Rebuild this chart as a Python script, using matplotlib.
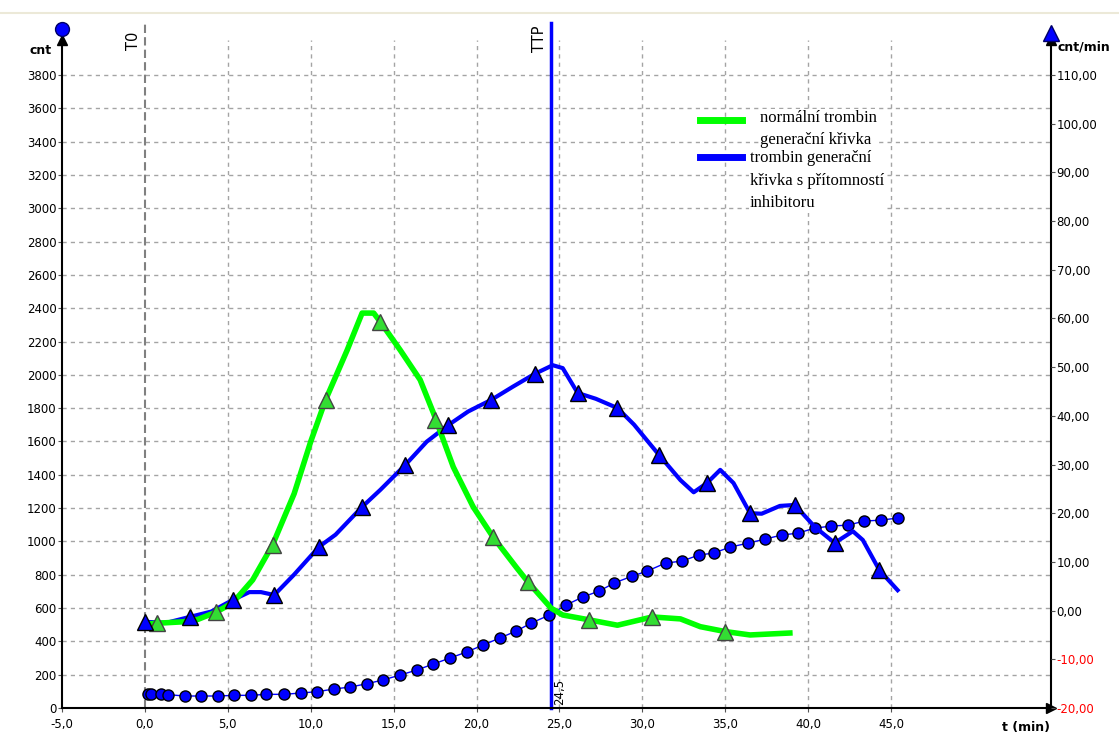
import numpy as np
import matplotlib
matplotlib.use('Agg')
import matplotlib.pyplot as plt
from matplotlib.lines import Line2D
from matplotlib.ticker import FuncFormatter

# cumulative signal (cnt), left axis
dot_t = [0.2, 0.35, 1.0, 1.4, 2.4, 3.4, 4.4, 5.4, 6.4, 7.3, 8.4, 9.4, 10.4,
         11.4, 12.4, 13.4, 14.35, 15.4, 16.4, 17.4, 18.4, 19.4, 20.4, 21.4,
         22.4, 23.3, 24.4, 25.4, 26.4, 27.4, 28.3, 29.4, 30.3, 31.4, 32.4,
         33.4, 34.3, 35.3, 36.4, 37.4, 38.4, 39.4, 40.4, 41.4, 42.4, 43.4,
         44.4, 45.4]
dot_cnt = [83, 83, 82, 80, 72, 72, 72, 76, 76, 82, 82, 90, 98, 114, 126, 146,
           168, 198, 228, 264, 300, 336, 378, 420, 462, 510, 558, 618, 666,
           702, 750, 792, 822, 870, 882, 918, 930, 966, 990, 1014, 1038, 1050,
           1080, 1092, 1098, 1122, 1128, 1140]

# normal thrombin generation curve (cnt/min), right axis
green_t = [0.3, 0.7, 2.3, 3.2, 4.3, 5.3, 6.5, 7.7, 9.0, 10.0, 10.9, 12.2,
           13.1, 13.8, 14.2, 15.4, 16.6, 17.4, 18.6, 19.8, 21.0, 22.4, 23.1,
           24.5, 25.2, 26.8, 28.5, 30.6, 32.3, 33.5, 35.0, 36.5, 38.9]
green_r = [-2.7, -2.6, -2.3, -1.8, -0.3, 1.6, 6.3, 13.5, 24.0, 34.7, 43.3,
           53.5, 61.1, 61.1, 59.3, 53.5, 47.4, 40.6, 29.5, 21.3, 15.1, 8.9,
           5.9, 0.5, -0.9, -1.9, -3.0, -1.3, -1.7, -3.3, -4.3, -5.0, -4.6]
green_tri_t = [0.7, 4.3, 7.7, 10.9, 14.2, 17.5, 21.0, 23.1, 26.8, 30.6, 35.0]
green_tri_r = [-2.6, -0.3, 13.5, 43.3, 59.3, 39.2, 15.1, 5.9, -1.9, -1.3, -4.3]

# thrombin generation with inhibitor (cnt/min), right axis
blue_t = [0.0, 1.3, 2.7, 4.0, 5.3, 6.3, 7.0, 7.8, 9.0, 10.5, 11.5, 13.1, 14.2,
          15.7, 17.0, 18.3, 19.5, 20.9, 22.2, 23.5, 24.6, 25.2, 26.1, 27.2,
          28.5, 29.5, 31.0, 32.3, 33.1, 33.9, 34.7, 35.5, 36.5, 37.2, 38.3,
          39.2, 40.4, 41.6, 42.7, 43.3, 44.3, 45.4]
blue_r = [-2.3, -2.5, -1.3, -0.2, 2.2, 3.8, 3.8, 3.2, 7.4, 13.1, 15.6, 21.3,
          24.8, 29.9, 34.7, 38.1, 40.9, 43.3, 46.0, 48.6, 50.4, 49.8, 44.7,
          43.5, 41.6, 38.2, 32.0, 26.8, 24.3, 26.2, 28.9, 26.2, 20.0, 19.9,
          21.5, 21.7, 17.2, 13.9, 16.3, 14.5, 8.3, 4.2]
blue_tri_t = [0.0, 2.7, 5.3, 7.8, 10.5, 13.1, 15.7, 18.3, 20.9, 23.5, 26.1,
              28.5, 31.0, 33.9, 36.5, 39.2, 41.6, 44.3]
blue_tri_r = [-2.3, -1.3, 2.2, 3.2, 13.1, 21.3, 29.9, 38.1, 43.3, 48.6, 44.7,
              41.6, 32.0, 26.2, 20.0, 21.7, 13.9, 8.3]

t0 = 0.0
ttp = 24.5
legend_green = 'normální trombin\ngenerační křivka'
legend_blue = 'trombin generační\nkřivka s přítomností\ninhibitoru'

plt.rcParams['font.family'] = 'DejaVu Sans'
fig = plt.figure(figsize=(11.19, 7.35), dpi=100)
ax = fig.add_axes([62 / 1119, 1 - 708 / 735, (1051 - 62) / 1119, 668 / 735])
ymax = 4010
ax.set_xlim(-5, 54.65)
ax.set_ylim(0, ymax)

ax2 = ax.twinx()
r_lo = -20
r_hi = r_lo + ymax * 130 / 3800
ax2.set_ylim(r_lo, r_hi)

for a in (ax, ax2):
    for s in a.spines.values():
        s.set_visible(False)

ax.set_xticks(np.arange(-5, 46, 5))
ax.set_yticks(np.arange(0, 3801, 200))
ax.xaxis.set_major_formatter(FuncFormatter(lambda v, p: ('%.1f' % v).replace('.', ',')))
ax.tick_params(axis='y', labelsize=8.5, length=3, color='#555555', pad=1)
ax.tick_params(axis='x', labelsize=8.5, length=3, color='#555555', pad=4)
ax2.set_yticks(np.arange(-20, 111, 10))
ax2.yaxis.set_major_formatter(FuncFormatter(lambda v, p: ('%.2f' % v).replace('.', ',')))
ax2.tick_params(axis='y', labelsize=8.5, length=3, color='#555555', pad=1)
for lab, v in zip(ax2.get_yticklabels(), np.arange(-20, 111, 10)):
    if v < 0:
        lab.set_color('red')

# grid
for x in np.arange(5, 46, 5):
    ax.axvline(x, color='#a4a4a4', lw=1, ls=(0, (3, 3)), zorder=0)
for y in np.arange(200, 3801, 200):
    ax.axhline(y, color='#a4a4a4', lw=1, ls=(0, (3, 3)), zorder=0)
ax.plot([t0, t0], [0, 1.025], color='#808080', lw=1.5, ls=(0, (4, 2)), zorder=1,
        transform=ax.get_xaxis_transform(), clip_on=False)

# axes lines with arrows
ax.plot([-5, -5], [0, ymax], color='black', lw=1.5, clip_on=False, zorder=5)
ax.plot([-5, 54.65], [0, 0], color='black', lw=1.5, clip_on=False, zorder=5)
ax.plot([54.65, 54.65], [0, ymax], color='black', lw=1.5, clip_on=False, zorder=5)
ax.plot(0, 1, marker='^', color='black', ms=7, transform=ax.transAxes, clip_on=False, zorder=6)
ax.plot(1, 1, marker='^', color='black', ms=7, transform=ax.transAxes, clip_on=False, zorder=6)
ax.plot(1, 0, marker='>', color='black', ms=7, transform=ax.transAxes, clip_on=False, zorder=6)
ax.plot(0, 1.016, marker='o', mfc='blue', mec='#000066', ms=10, transform=ax.transAxes, clip_on=False, zorder=6)
ax.plot(1, 1.011, marker='^', mfc='blue', mec='#000066', ms=11, transform=ax.transAxes, clip_on=False, zorder=6)

# curves
ax2.plot(blue_t, blue_r, color='#0000ff', lw=3, zorder=3)
ax2.plot(green_t, green_r, color='#00ff00', lw=4, zorder=3)
ax2.plot(green_tri_t, green_tri_r, ls='none', marker='^', ms=11, mfc='#33dd33', mec='#444444', zorder=4)
ax2.plot(blue_tri_t, blue_tri_r, ls='none', marker='^', ms=11, mfc='#0000ff', mec='black', zorder=4)
ax.plot(dot_t, dot_cnt, color='blue', lw=1, marker='o', ms=8, mfc='blue', mec='black', zorder=3)

# TTP line
ax.plot([ttp, ttp], [0, 1.025], color='#0000ff', lw=2.5, zorder=2,
        transform=ax.get_xaxis_transform(), clip_on=False)
ax.text(t0 - 0.25, 1.012, 'T0', rotation=90, ha='right', va='top', fontsize=10.5,
        transform=ax.get_xaxis_transform())
ax.text(ttp - 0.25, 1.022, 'TTP', rotation=90, ha='right', va='top', fontsize=10.5,
        transform=ax.get_xaxis_transform())
ax.text(ttp + 0.15, 0.005, ('%.1f' % ttp).replace('.', ','), rotation=90, ha='left',
        va='bottom', fontsize=8.5, transform=ax.get_xaxis_transform())

# axis titles
fig.text(52 / 1119, 1 - 50 / 735, 'cnt', ha='right', va='center', fontsize=9, fontweight='bold')
fig.text(1058 / 1119, 1 - 47 / 735, 'cnt/min', ha='left', va='center', fontsize=9, fontweight='bold')
fig.text(1050 / 1119, 1 - 727 / 735, 't (min)', ha='right', va='center', fontsize=9, fontweight='bold')

# legend
lg = dict(transform=fig.transFigure, clip_on=False, zorder=7)
ax.add_line(Line2D([700 / 1119, 742 / 1119], [1 - 120 / 735] * 2, color='#00ff00', lw=5, **lg))
ax.add_line(Line2D([700 / 1119, 742 / 1119], [1 - 157 / 735] * 2, color='#0000ff', lw=5, **lg))
fig.text(760 / 1119, 1 - 110 / 735, legend_green, ha='left', va='top', fontsize=12,
         family='Liberation Serif', linespacing=1.5, zorder=7,
         bbox=dict(facecolor='white', edgecolor='none', pad=1))
fig.text(750 / 1119, 1 - 150 / 735, legend_blue, ha='left', va='top', fontsize=12,
         family='Liberation Serif', linespacing=1.55, zorder=7,
         bbox=dict(facecolor='white', edgecolor='none', pad=1))

fig.add_artist(Line2D([0, 1], [1 - 13 / 735] * 2, color='#ece9d8', lw=1.5))

fig.savefig('out.png', dpi=100)
